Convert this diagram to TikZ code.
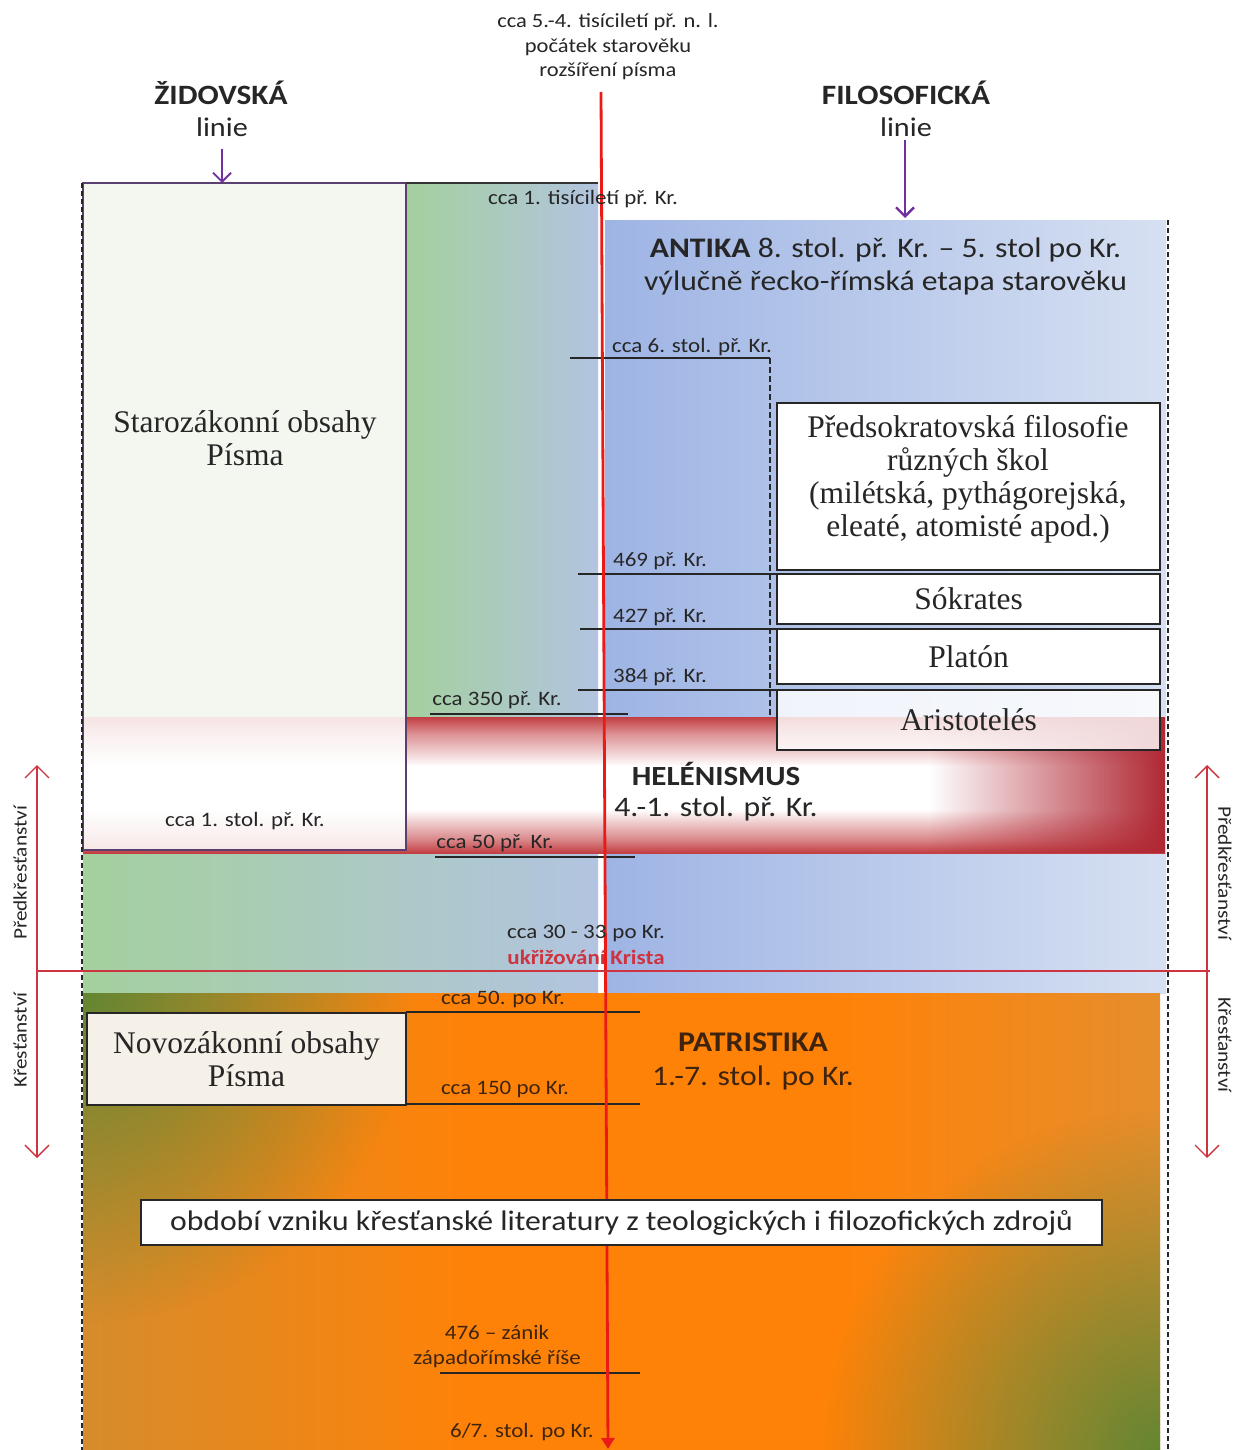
\documentclass[tikz,border=0pt]{standalone}
\usepackage{fontspec}
\setmainfont{Carlito}[FakeStretch=1.12]
\newfontfamily\serifface{Liberation Serif}
\usetikzlibrary{arrows.meta,fadings}
\definecolor{txt}{HTML}{262626}
\definecolor{brn}{HTML}{3E240E}
\definecolor{grn}{RGB}{164,208,158}
\definecolor{blg}{RGB}{178,196,224}
\definecolor{bl1}{RGB}{158,180,228}
\definecolor{bl2}{RGB}{214,224,242}
\definecolor{org}{RGB}{255,130,8}
\definecolor{orgl}{RGB}{214,140,44}
\definecolor{orgr}{RGB}{230,142,44}
\definecolor{olv}{RGB}{100,134,50}
\definecolor{hred}{RGB}{194,62,66}
\definecolor{hdeep}{RGB}{176,40,52}
\definecolor{arr}{RGB}{234,26,22}
\definecolor{pur}{RGB}{112,48,160}
\definecolor{boxpur}{RGB}{90,64,112}
\definecolor{sidered}{RGB}{204,52,64}
\definecolor{cream}{RGB}{246,241,232}
\definecolor{oldfill}{RGB}{243,247,240}
\tikzfading[name=fadetoleft, left color=transparent!100, right color=transparent!0]
\tikzfading[name=softspot, inner color=transparent!0, outer color=transparent!100]
% the path spans 25bp..75bp of these shadings
\pgfdeclareverticalshading{helband}{100bp}{color(0bp)=(hred); color(25bp)=(hred); color(30bp)=(hred!62); color(41bp)=(white); color(57bp)=(white); color(69bp)=(hred!58); color(75bp)=(hred); color(100bp)=(hred)}
\pgfdeclarehorizontalshading{orgsh}{100bp}{color(0bp)=(orgl); color(25bp)=(orgl); color(43bp)=(org); color(60bp)=(org); color(75bp)=(orgr); color(100bp)=(orgr)}
\tikzset{
  lbl/.style={font=\fontsize{20.5}{24}\selectfont, text=txt, inner sep=0pt},
  lblo/.style={lbl, text=brn},
  bigtxt/.style={font=\fontsize{28.3}{33}\selectfont, text=txt, inner sep=0pt, align=center},
  hdr/.style={font=\bfseries\fontsize{28}{32}\selectfont, text=txt, inner sep=0pt},
  sidelbl/.style={font=\fontsize{19}{22}\selectfont, text=txt, inner sep=0pt},
  serbox/.style={draw=black!85, line width=1.4pt, fill=white, inner sep=0pt},
  sertxt/.style={font=\serifface\fontsize{31.5}{33}\selectfont, text=txt, align=center, inner sep=0pt},
  tick/.style={draw=black!85, line width=1.4pt},
  dashv/.style={draw=black!85, line width=1.6pt, dash pattern=on 5pt off 3pt},
  purarrow/.style={draw=pur, line width=1.8pt, -{Straight Barb[length=9pt,width=18pt]}},
  sidearr/.style={draw=sidered, line width=1.4pt, {Straight Barb[length=12pt,width=24pt]}-{Straight Barb[length=12pt,width=24pt]}},
}
\begin{document}
\begin{tikzpicture}[x=1pt,y=-1pt]
\useasboundingbox[fill=white] (0,0) rectangle (1248,1450);

% --- backgrounds ---
\shade[left color=grn, right color=blg] (406,183) rectangle (598,850);
\shade[left color=grn, right color=blg] (83,850) rectangle (598,993);
\shade[left color=bl1, right color=bl2] (605,220) rectangle (1166,993);
\fill[oldfill] (83,183) rectangle (406,850);

% Hellenism band
\shade[shading=helband] (83,717) rectangle (1165,853);
\fill[hdeep, path fading=fadetoleft] (930,717) rectangle (1165,853);
\fill[white, opacity=0.86] (83,717) rectangle (406,850);

% old testament box border
\draw[boxpur, line width=1.4pt] (83,183) rectangle (406,850);
\draw[black!80, line width=1.4pt] (406,183) -- (598,183);

% Patristics region
\shade[shading=orgsh] (83,993) rectangle (1160,1450);
\begin{scope}
  \clip (83,993) rectangle (1160,1450);
  \fill[olv, path fading=softspot] (83,993) circle (330);
  \fill[olv, path fading=softspot] (1160,1450) circle (340);
\end{scope}

% --- dashed borders ---
\draw[dashv] (82,183) -- (82,1450);
\draw[dashv] (1168,220) -- (1168,1450);
\draw[draw=black!85, line width=1.3pt, dash pattern=on 6pt off 3pt] (770,358) -- (770,717);

% --- tick lines ---
\draw[tick] (570,358) -- (770,358);
\draw[tick] (578,574) -- (777,574);
\draw[tick] (580,629) -- (777,629);
\draw[tick] (578,690) -- (777,690);
\draw[tick] (430,714) -- (628,714);
\draw[tick] (435,857) -- (635,857);
\draw[tick] (406,1012) -- (640,1012);
\draw[tick] (406,1104) -- (640,1104);
\draw[tick] (440,1373) -- (640,1373);

% --- philosophy boxes ---
\node[serbox, minimum width=383pt, minimum height=167pt] (pres) at (968.5,486.5) {};
\node[sertxt] (prest) at (968,479.5) {Předsokratovská filosofie\\různých škol\\(milétská, pythágorejská,\\eleaté, atomisté apod.)};
\node[serbox, sertxt, minimum width=383pt, minimum height=50pt] (sok) at (968.5,599) {Sókrates};
\node[serbox, sertxt, minimum width=383pt, minimum height=55pt] (pla) at (968.5,656.5) {Platón};
\node[serbox, sertxt, fill opacity=0.82, text opacity=1, minimum width=383pt, minimum height=60pt] (ari) at (968.5,720) {Aristotelés};

% New testament box
\node[serbox, sertxt, fill=cream, minimum width=319pt, minimum height=92pt] (nz) at (246.5,1059) {Novozákonní obsahy\\Písma};

% Old testament text
\node[sertxt] (sz) at (245,438) {Starozákonní obsahy\\Písma};

% --- central time arrow ---
\coordinate (tstart) at (601,92);
\coordinate (tend) at (608,1449);
\draw[arr, line width=2.8pt, -{Triangle[length=11pt,width=13pt]}] (tstart) -- (tend);

% long box (covers the arrow)
\node[serbox, line width=1.6pt, minimum width=961pt, minimum height=45pt, font=\fontsize{28.3}{32}\selectfont, text=txt] (lit) at (621.5,1222.5) {období vzniku křesťanské literatury z teologických i filozofických zdrojů};

% crucifixion line
\coordinate (cl) at (37,971);
\coordinate (cr) at (1210,971);
\draw[sidered, line width=1.4pt] (cl) -- (cr);

% side arrows
\coordinate (la) at (37,765); \coordinate (lb) at (37,1158);
\coordinate (ra) at (1207,765); \coordinate (rb) at (1207,1158);
\draw[sidearr] (la) -- (lb);
\draw[sidearr] (ra) -- (rb);
\node[sidelbl, rotate=90] (lp) at (20,873) {Předkřesťanství};
\node[sidelbl, rotate=90] (lk) at (20,1040) {Křesťanství};
\node[sidelbl, rotate=-90] (rp) at (1225,873) {Předkřesťanství};
\node[sidelbl, rotate=-90] (rk) at (1225,1045) {Křesťanství};

% --- headers ---
\node[lbl, align=center, font=\fontsize{20.1}{24.5}\selectfont] (top) at (608,47) {cca 5.-4. tisíciletí př. n. l.\\počátek starověku\\rozšíření písma};
\node[hdr] (zid) at (221,93) {ŽIDOVSKÁ};
\node[bigtxt, font=\fontsize{27}{30}\selectfont] (zidl) at (222,127) {linie};
\node[hdr] (fil) at (906,93) {FILOSOFICKÁ};
\node[bigtxt, font=\fontsize{27}{30}\selectfont] (fill) at (906,127) {linie};
\coordinate (zidtop) at (222,183);
\coordinate (filtop) at (905,218);
\draw[purarrow] ([yshift=-12pt]zidl.south -| zidtop) -- (zidtop);
\draw[purarrow, line width=2.4pt] ([yshift=-3pt]fill.south -| filtop) -- (filtop);

% --- labels ---
\node[lbl] (l1000) at (583,199) {cca 1. tisíciletí př. Kr.};
\node[bigtxt] (ant1) at (885.5,250) {\textbf{ANTIKA} 8. stol. př. Kr. – 5. stol po Kr.};
\node[bigtxt] (ant2) at (885.5,283) {výlučně řecko-římská etapa starověku};
\node[lbl] (l6) at (692,347) {cca 6. stol. př. Kr.};
\node[lbl] (l469) at (660,561) {469 př. Kr.};
\node[lbl] (l427) at (660,617) {427 př. Kr.};
\node[lbl] (l384) at (660,677) {384 př. Kr.};
\node[lbl] (l350) at (497,700) {cca 350 př. Kr.};
\node[hdr, font=\bfseries\fontsize{27.7}{30}\selectfont] (hel) at (716,774) {HELÉNISMUS};
\node[bigtxt] (hel2) at (716,809) {4.-1. stol. př. Kr.};
\node[lbl] (l1s) at (245,821) {cca 1. stol. př. Kr.};
\node[lbl] (l50) at (495,843) {cca 50 př. Kr.};
\node[lbl] (l30) at (586,933) {cca 30 - 33\hspace{6pt}po Kr.};
\node[lbl, font=\bfseries\fontsize{20.5}{24}\selectfont, text=sidered] (kr) at (586,957) {ukřižování\hspace{5pt}Krista};
\node[lblo] (l50p) at (503,999) {cca 50. po Kr.};
\node[lblo] (l150) at (505,1089) {cca 150 po Kr.};
\node[hdr, font=\bfseries\fontsize{28.5}{30}\selectfont, text=brn] (pat) at (753,1042) {PATRISTIKA};
\node[bigtxt, text=brn] (pat2) at (753,1078) {1.-7. stol. po Kr.};
\node[lblo, align=center, font=\fontsize{20.5}{25}\selectfont] (l476) at (497,1347) {476 – zánik\\západořímské říše};
\node[lblo] (l67) at (522,1432) {6/7. stol. po Kr.};
\end{tikzpicture}
\end{document}
